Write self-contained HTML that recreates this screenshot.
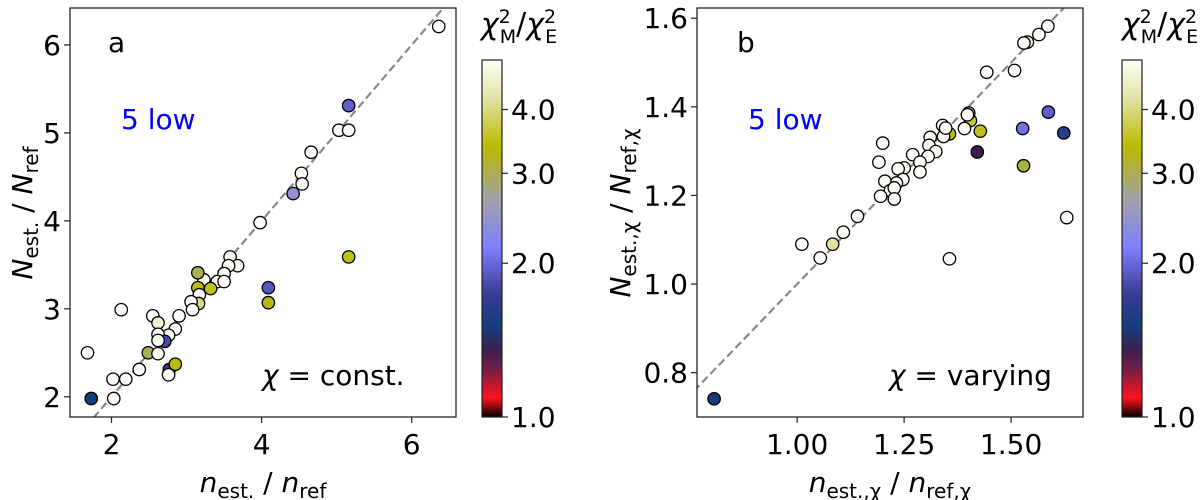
<!DOCTYPE html>
<html><head><meta charset="utf-8">
<style>
html,body{margin:0;padding:0;background:#fff;}
svg{display:block;font-family:"DejaVu Sans","Liberation Sans",sans-serif;}
</style></head>
<body>
<svg id="fig" width="1200" height="500" viewBox="0 0 1200 500" xmlns="http://www.w3.org/2000/svg"></svg>
<script>
// Panel a data: [x, y, chi ratio]
const aX = [6.36,5.16,5.03,5.16,4.66,4.53,4.54,4.42,3.98,5.16,3.58,3.68,3.56,3.50,3.41,3.50,3.23,3.15,3.15,3.32,3.17,3.16,3.06,3.08,4.09,4.09,2.90,2.13,2.55,2.62,2.85,2.76,2.62,2.71,2.62,2.49,2.62,1.68,2.37,2.77,2.76,2.85,2.02,2.19,2.03,1.73];
const aY = [6.21,5.31,5.03,5.03,4.78,4.54,4.42,4.31,3.98,3.59,3.59,3.49,3.49,3.40,3.31,3.31,3.33,3.41,3.24,3.23,3.16,3.06,3.08,2.99,3.24,3.07,2.92,2.99,2.92,2.84,2.77,2.70,2.71,2.63,2.64,2.50,2.49,2.50,2.31,2.31,2.25,2.37,2.20,2.20,1.98,1.98];
const aC = [5,1.95,5,5,5,5,5,2.4,5,3.5,5,5,5,5,5,5,5,3.0,3.4,3.5,5,4.0,5,5,1.9,3.3,5,5,5,4.6,5,5,5,1.8,5,3.0,5,5,5,1.7,5,3.4,5,5,5,1.5];
// Panel b data
const bX = [1.586,1.565,1.538,1.530,1.508,1.443,1.587,1.623,1.527,1.529,1.630,1.421,1.428,1.405,1.401,1.398,1.391,1.356,1.342,1.340,1.347,1.311,1.308,1.324,1.306,1.270,1.287,1.287,1.250,1.236,1.247,1.232,1.200,1.191,1.205,1.218,1.227,1.195,1.227,1.141,1.108,1.083,1.011,1.054,1.356,0.806];
const bY = [1.582,1.563,1.546,1.544,1.482,1.478,1.388,1.341,1.351,1.267,1.150,1.298,1.345,1.369,1.386,1.382,1.351,1.339,1.333,1.358,1.352,1.331,1.313,1.299,1.288,1.292,1.275,1.253,1.262,1.260,1.236,1.228,1.318,1.275,1.232,1.211,1.217,1.198,1.192,1.153,1.117,1.090,1.090,1.059,1.057,0.741];
const bC = [5,5,5,5,5,5,1.95,1.6,2.05,3.1,5,1.35,3.5,3.6,3.0,5,5,3.4,5,5,5,5,5,5,5,5,5,5,5,5,5,5,5,5,5,5,5,5,5,5,5,4.2,5,5,5,1.5];
const aXTicks = [2,4,6];
const aYTicks = [2,3,4,5,6];
const bXTicks = [1.00,1.25,1.50];
const bYTicks = [0.8,1.0,1.2,1.4,1.6];
const cbTicks = [1.0,2.0,3.0,4.0];

const NS="http://www.w3.org/2000/svg";
const svg=document.getElementById('fig');
function mk(tag,attrs,parent){const e=document.createElementNS(NS,tag);for(const k in attrs)e.setAttribute(k,attrs[k]);(parent||svg).appendChild(e);return e;}

const stops=[[1.0,[0,0,0]],[1.09,[255,20,30]],[1.25,[110,30,70]],[1.35,[60,30,80]],[1.49,[20,60,120]],[1.75,[60,60,150]],[2.15,[128,128,255]],[2.66,[160,160,170]],[3.37,[185,185,0]],[4.17,[225,225,160]],[5.0,[255,255,250]]];
function cmap(v){
  const lv=Math.log10(Math.max(1,Math.min(5,v)));
  for(let i=0;i<stops.length-1;i++){
    const a=Math.log10(stops[i][0]),b=Math.log10(stops[i+1][0]);
    if(lv<=b){const t=(lv-a)/(b-a);const c=stops[i][1].map((x,j)=>Math.round(x+(stops[i+1][1][j]-x)*t));return `rgb(${c[0]},${c[1]},${c[2]})`;}
  }
  return 'rgb(255,255,250)';
}

function panel(p){
  const g=mk('g',{});
  
  
  const sx=v=>p.x0+(v-p.xmin)/(p.xmax-p.xmin)*(p.x1-p.x0);
  const sy=v=>p.y1-(v-p.ymin)/(p.ymax-p.ymin)*(p.y1-p.y0);
  const clip='clip-'+p.name;
  const cp=mk('clipPath',{id:clip},g);mk('rect',{x:p.x0,y:p.y0,width:p.x1-p.x0,height:p.y1-p.y0},cp);
  const lo=Math.min(p.xmin,p.ymin),hi=Math.max(p.xmax,p.ymax);
  const dl=mk('line',{x1:sx(lo),y1:sy(lo),x2:sx(hi),y2:sy(hi),stroke:'#888','stroke-width':2.2,'stroke-dasharray':'8,4','clip-path':`url(#${clip})`},g);
  
  
  for(let i=0;i<p.X.length;i++){
    const c=mk('circle',{cx:sx(p.X[i]),cy:sy(p.Y[i]),r:6.2,fill:cmap(p.C[i]),stroke:'#000','stroke-width':1.3},g);
    
    
  }
  const fr=mk('rect',{x:p.x0,y:p.y0,width:p.x1-p.x0,height:p.y1-p.y0,fill:'none',stroke:'#222','stroke-width':1.3},g);
  
  
  p.xt.forEach(v=>{
    mk('line',{x1:sx(v),y1:p.y1,x2:sx(v),y2:p.y1+6,stroke:'#222','stroke-width':1.2},g);
    const t=mk('text',{x:sx(v),y:p.y1+37,'font-size':28,'text-anchor':'middle',fill:'#000'},g);
    t.textContent=p.xfmt(v);
    
    
  });
  p.yt.forEach(v=>{
    mk('line',{x1:p.x0-6,y1:sy(v),x2:p.x0,y2:sy(v),stroke:'#222','stroke-width':1.2},g);
    const t=mk('text',{x:p.x0-9,y:sy(v)+10,'font-size':28,'text-anchor':'end',fill:'#000'},g);
    t.textContent=p.yfmt(v);
    
    
  });
  const cy0=60,cy1=417,cbx=p.cbx,cbw=20;
  const ly=v=>cy1-Math.log10(v)/Math.log10(5)*(cy1-cy0);
  const cb=mk('g',{},g);
  
  
  for(let y=cy0;y<cy1;y++){
    const v=Math.pow(5,(cy1-y-0.5)/(cy1-cy0));
    mk('rect',{x:cbx,y:y,width:cbw,height:1.2,fill:cmap(v)},cb);
  }
  mk('rect',{x:cbx,y:cy0,width:cbw,height:cy1-cy0,fill:'none',stroke:'#222','stroke-width':1.2},cb);
  cbTicks.forEach(v=>{
    mk('line',{x1:cbx+cbw,y1:ly(v),x2:cbx+cbw+6,y2:ly(v),stroke:'#222','stroke-width':1.2},cb);
    const t=mk('text',{x:cbx+cbw+9,y:ly(v)+10,'font-size':28,fill:'#000'},cb);
    t.textContent=v.toFixed(1);
    
    
  });
}
panel({name:'panel-a',X:aX,Y:aY,C:aC,x0:70,x1:456,y0:8,y1:417,xmin:1.447,xmax:6.59,ymin:1.77,ymax:6.42,xt:aXTicks,yt:aYTicks,xfmt:v=>String(v),yfmt:v=>String(v),cbx:482});
panel({name:'panel-b',X:bX,Y:bY,C:bC,x0:697,x1:1083,y0:8,y1:417,xmin:0.766,xmax:1.668,ymin:0.70,ymax:1.623,xt:bXTicks,yt:bYTicks,xfmt:v=>v.toFixed(2),yfmt:v=>v.toFixed(1),cbx:1122});
</script>
<svg width="1200" height="500" style="position:absolute;left:0;top:0" font-family="DejaVu Sans, Liberation Sans, sans-serif">
  <text x="108" y="52" font-size="28">a</text>
  <text x="121" y="129" font-size="28" fill="#0000ff">5 low</text>
  <text x="262" y="385" font-size="28"><tspan font-style="italic">χ</tspan> = const.</text>
  <text x="263" y="492" font-size="28" text-anchor="middle"><tspan font-style="italic">n</tspan><tspan font-size="20" dy="6">est.</tspan><tspan dy="-6"> / </tspan><tspan font-style="italic">n</tspan><tspan font-size="20" dy="6">ref</tspan></text>
  <text transform="translate(32,213) rotate(-90)" font-size="28" text-anchor="middle"><tspan font-style="italic">N</tspan><tspan font-size="20" dy="6">est.</tspan><tspan dy="-6"> / </tspan><tspan font-style="italic">N</tspan><tspan font-size="20" dy="6">ref</tspan></text>
  <text x="519" y="34" font-size="30" text-anchor="middle"><tspan font-style="italic">χ</tspan><tspan font-size="19" dy="-11">2</tspan><tspan font-size="19" dx="-11" dy="20">M</tspan><tspan dy="-9">/</tspan><tspan font-style="italic">χ</tspan><tspan font-size="19" dy="-11">2</tspan><tspan font-size="19" dx="-11" dy="20">E</tspan></text>
  <text x="737" y="52" font-size="28">b</text>
  <text x="748" y="129" font-size="28" fill="#0000ff">5 low</text>
  <text x="889" y="385" font-size="28"><tspan font-style="italic">χ</tspan> = varying</text>
  <text x="890" y="492" font-size="28" text-anchor="middle"><tspan font-style="italic">n</tspan><tspan font-size="20" dy="6">est.,χ</tspan><tspan dy="-6"> / </tspan><tspan font-style="italic">n</tspan><tspan font-size="20" dy="6">ref,χ</tspan></text>
  <text transform="translate(630,213) rotate(-90)" font-size="28" text-anchor="middle"><tspan font-style="italic">N</tspan><tspan font-size="20" dy="6">est.,χ</tspan><tspan dy="-6"> / </tspan><tspan font-style="italic">N</tspan><tspan font-size="20" dy="6">ref,χ</tspan></text>
  <text x="1160" y="34" font-size="30" text-anchor="middle"><tspan font-style="italic">χ</tspan><tspan font-size="19" dy="-11">2</tspan><tspan font-size="19" dx="-11" dy="20">M</tspan><tspan dy="-9">/</tspan><tspan font-style="italic">χ</tspan><tspan font-size="19" dy="-11">2</tspan><tspan font-size="19" dx="-11" dy="20">E</tspan></text>
</svg>
</body></html>
